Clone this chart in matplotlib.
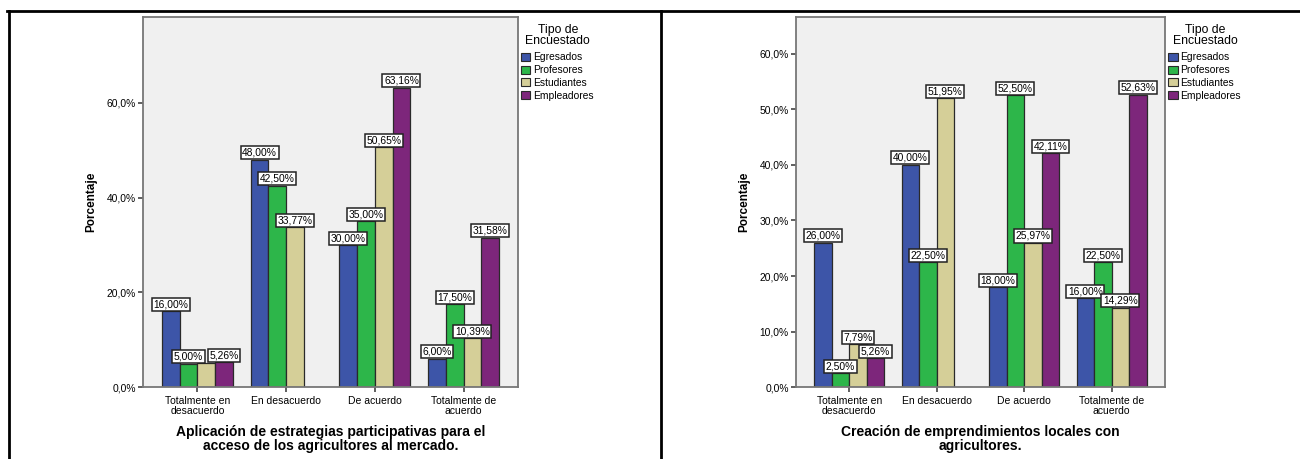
import matplotlib.pyplot as plt
from matplotlib.patches import Patch
from matplotlib.lines import Line2D
import numpy as np

plt.rcParams['font.family'] = ['Liberation Sans', 'DejaVu Sans']

W, H = 1300, 459

# Data
categories = ['Totalmente en\ndesacuerdo', 'En desacuerdo', 'De acuerdo', 'Totalmente de\nacuerdo']
groups = ['Egresados', 'Profesores', 'Estudiantes', 'Empleadores']
colors = ['#3D55A8', '#2DB64A', '#D5CF98', '#7D267B']

# chart 1: Aplicación de estrategias participativas
c1_egresados = [16.00, 48.00, 30.00, 6.00]
c1_profesores = [5.00, 42.50, 35.00, 17.50]
c1_estudiantes = [5.19, 33.77, 50.65, 10.39]
c1_empleadores = [5.26, 0.0, 63.16, 31.58]
c1_hidden = [(2, 0)]  # label covered in the original
c1_title = 'Aplicación de estrategias participativas para el\nacceso de los agricultores al mercado.'
c1_ticks = [0, 20, 40, 60]

# chart 2: Creación de emprendimientos locales
c2_egresados = [26.00, 40.00, 18.00, 16.00]
c2_profesores = [2.50, 22.50, 52.50, 22.50]
c2_estudiantes = [7.79, 51.95, 25.97, 14.29]
c2_empleadores = [5.26, 0.0, 42.11, 52.63]
c2_title = 'Creación de emprendimientos locales con\nagricultores.'
c2_ticks = [0, 10, 20, 30, 40, 50, 60]


def fmt(v, dec):
    return (f'{v:.{dec}f}%').replace('.', ',')


def draw_panel(fig, left, right, series, ymax, ticks, title, hidden=()):
    top, bottom = 17, 387.3
    ax = fig.add_axes([left / W, (H - bottom) / H, (right - left) / W, (bottom - top) / H])
    ax.set_facecolor('#F0F0F0')
    x = np.arange(len(categories))
    w = 0.2
    for i, vals in enumerate(series):
        pos = x + (i - 1.5) * w
        ax.bar(pos, vals, width=w, color=colors[i], edgecolor='#2a2a2a', linewidth=0.9, zorder=2)
        for j, v in enumerate(vals):
            if v <= 0 or (i, j) in hidden:
                continue
            ax.annotate(fmt(v, 2), xy=(pos[j], v), xytext=(0, 1.4), textcoords='offset points',
                        ha='center', va='bottom', fontsize=7.4, zorder=5,
                        bbox=dict(boxstyle='square,pad=0.15', fc='white', ec='#222222', lw=1.1))
    ax.set_xlim(-0.61, len(categories) - 1 + 0.61)
    ax.set_ylim(0, ymax)
    ax.set_yticks(ticks)
    ax.set_yticklabels([fmt(t, 1) for t in ticks], fontsize=7.4)
    ax.set_xticks(x)
    ax.set_xticklabels(categories, fontsize=7.5, linespacing=0.95)
    ax.tick_params(axis='x', length=3.6, width=1.2, color='#444444', pad=3)
    ax.tick_params(axis='y', length=3.6, width=1.2, color='#444444', pad=1.5)
    for s in ax.spines.values():
        s.set_color('#777777')
        s.set_linewidth(1.3)
    ax.set_ylabel('Porcentaje', fontsize=8.5, fontweight='bold', labelpad=7)
    ax.set_xlabel(title, fontsize=10, fontweight='bold', labelpad=6.5, linespacing=0.95)

    # legend: title drawn as text, entries below it
    cx = right + 40
    fig.text(cx / W, 1 - 35.5 / H, 'Tipo de\nEncuestado', ha='center', va='center',
             fontsize=8.8, linespacing=0.92)
    handles = [Patch(facecolor=c, edgecolor='#2a2a2a', linewidth=0.8) for c in colors]
    fig.legend(handles, groups, loc='upper left', bbox_to_anchor=((right + 3) / W, 1 - 52.5 / H),
               bbox_transform=fig.transFigure, frameon=False, fontsize=7.4,
               handlelength=0.95, handleheight=0.85, handletextpad=0.22,
               labelspacing=0.26, borderpad=0, borderaxespad=0)
    return ax


fig = plt.figure(figsize=(W / 100, H / 100), dpi=100)

draw_panel(fig, 143.3, 517.7,
           [c1_egresados, c1_profesores, c1_estudiantes, c1_empleadores],
           78.1, c1_ticks, c1_title, hidden=c1_hidden)
draw_panel(fig, 795.9, 1164.9,
           [c2_egresados, c2_profesores, c2_estudiantes, c2_empleadores],
           66.6, c2_ticks, c2_title)

# table frame lines
frame = dict(color='black', linewidth=2.0, transform=fig.transFigure, clip_on=False)
fig.add_artist(Line2D([7 / W, 1.0], [1 - 11 / H, 1 - 11 / H], **frame))
fig.add_artist(Line2D([8.7 / W, 8.7 / W], [0, 1 - 11 / H], **frame))
fig.add_artist(Line2D([661 / W, 661 / W], [0, 1 - 11 / H], **frame))

fig.savefig('out.png', dpi=100)
